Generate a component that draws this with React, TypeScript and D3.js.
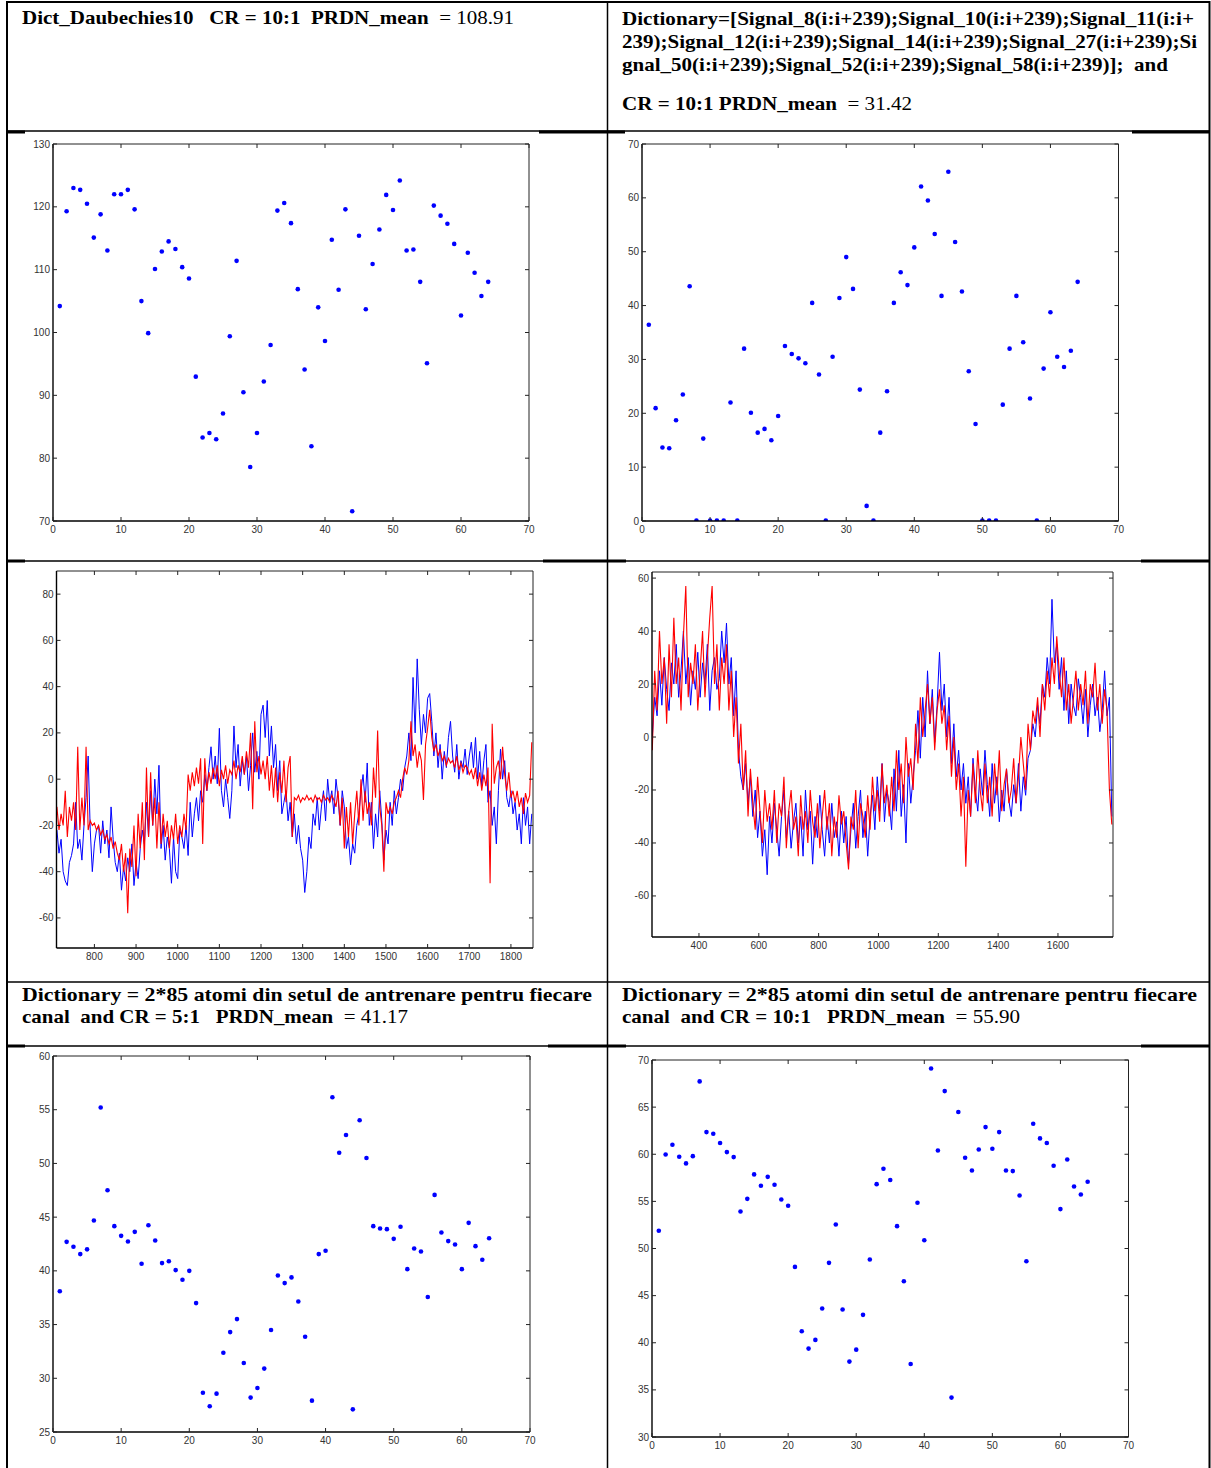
import React from 'react';
import * as d3 from 'd3';

const W = 1211, H = 1468;

// ---------- scatter data (PRDN per record, index 1..64) ----------
const prdDaub = [104.2,119.3,123.0,122.7,120.5,115.1,118.8,113.05,122.0,122.0,122.7,119.6,105.0,99.9,110.1,112.9,114.5,113.3,110.4,108.6,92.97,83.3,84.0,83.0,87.1,99.4,111.4,90.5,78.6,84.0,92.2,98.0,119.4,120.6,117.4,106.9,94.1,81.9,104.0,98.65,114.75,106.8,119.6,71.55,115.4,103.7,110.9,116.4,121.9,119.5,124.2,113.05,113.2,108.06,95.1,120.2,118.6,117.3,114.1,102.7,112.7,109.5,105.8,108.06];
const prdSignals = [36.45,20.95,13.64,13.5,18.7,23.5,43.6,0.1,15.3,0.1,0.1,0.1,22.0,0.1,32.0,20.1,16.4,17.1,15.0,19.5,32.5,31.0,30.2,29.3,40.5,27.2,0.1,30.5,41.4,49.0,43.1,24.4,2.8,0.1,16.4,24.1,40.5,46.2,43.8,50.8,62.1,59.5,53.3,41.8,64.85,51.8,42.6,27.8,18.0,0.1,0.1,0.1,21.6,32.0,41.8,33.2,22.75,0.1,28.3,38.75,30.5,28.6,31.6,44.4];
const prd85cr5 = [38.1,42.7,42.24,41.56,42.0,44.69,55.2,47.5,44.16,43.26,42.73,43.63,40.66,44.25,42.83,40.72,40.9,40.07,39.17,40.0,37.0,28.66,27.39,28.57,32.38,34.3,35.51,31.42,28.2,29.1,30.9,34.49,39.57,38.86,39.39,37.15,33.87,27.92,41.56,41.87,56.16,51.0,52.65,27.11,54.02,50.51,44.16,43.94,43.88,42.98,44.1,40.16,42.08,41.8,37.56,47.07,43.57,42.77,42.45,40.16,44.47,42.3,41.03,43.04];
const prd85cr10 = [51.88,59.98,61.0,59.73,59.03,59.8,67.73,62.35,62.18,61.19,60.23,59.7,53.93,55.27,57.86,56.65,57.6,56.76,55.2,54.53,48.05,41.22,39.38,40.3,43.63,48.48,52.55,43.52,38.0,39.27,42.96,48.83,56.83,58.46,57.26,52.37,46.53,37.75,54.85,50.88,69.1,60.4,66.7,34.18,64.48,59.63,58.28,60.51,62.88,60.58,62.35,58.28,58.21,55.63,48.65,63.24,61.68,61.19,58.78,54.18,59.45,56.58,55.73,57.08];

// ---------- signal 1 (samples every 5 from 710) ----------
const sig1Start = 710, sig1Step = 5;
const sig1Orig = [
-22,-32,-26,-40,-44,-46,-36,-33,-28,-10,
-30,-26,-35,-20,-8,10,-22,-40,-28,-22,
-20,-32,-18,-28,-22,-34,-12,-26,-36,-40,
-32,-48,-38,-44,-34,-40,-28,-46,-36,-43,
-30,-22,-28,-10,-25,-5,-20,0,-15,6,
-30,-20,-35,-25,-30,-45,-25,-40,-43,-22,
-25,-30,-20,-33,-10,-25,-15,-8,-18,-5,
-10,2,-5,5,14,0,10,-2,22,-5,
-12,0,-8,-17,-5,23,5,15,-3,8,
2,10,-5,6,20,3,12,0,28,32,
18,34,10,23,5,15,-5,8,-15,-10,
-5,-18,-10,-25,-15,-28,-20,-30,-35,-49,
-40,-25,-30,-15,-20,-8,-22,-12,-5,-18,
0,-10,-5,-15,0,-8,-20,-5,-12,-30,
-25,-37,-28,-32,-20,-15,-5,2,-10,7,
-20,-10,-30,-15,-25,-5,-18,-35,-22,-28,
-10,-20,-5,-15,-8,0,-5,5,10,20,
8,44,20,52,30,15,28,20,35,37,
25,10,20,5,15,0,12,5,18,25,
10,3,15,0,8,5,13,2,10,16,
5,18,0,12,-3,8,15,-10,-5,-20,
-12,-28,-5,13,0,8,-8,-12,-5,-15,
-10,-22,-15,-28,-8,-20,-12,-28,-15];
const sig1Rec = [
-12,-22,-15,-20,-5,-25,-12,-18,-10,-22,
14,-22,-8,-20,14,-22,-18,-20,-19,-22,
-20,-24,-22,-26,-24,-28,-25,-30,-27,-32,
-35,-28,-40,-32,-58,-30,-38,-20,-42,-15,
-30,-10,-35,5,-25,3,-20,-8,-30,-10,
-28,-15,-25,-18,-30,-20,-26,-15,-28,-20,
-25,-15,-22,2,-5,3,-3,5,-2,9,
-28,9,-5,3,-2,5,0,6,-3,4,
0,6,-2,4,2,8,0,6,3,10,
2,12,5,20,-13,25,3,10,2,8,
0,10,-5,6,-8,5,-10,3,-6,8,
-10,5,10,-25,-8,-9,-7,-10,-8,-9,
-7,-9,-8,-10,-7,-9,-8,-10,-7,-9,
-8,-10,-7,-9,-12,-5,-20,-8,-30,-12,
-25,-10,-28,-15,-5,-20,0,-18,-5,-15,
-10,-20,5,-8,21,-12,-20,-40,-10,-15,
-12,-15,-10,-8,-5,-8,0,5,2,8,
25,10,15,5,12,8,-9,15,22,30,
18,12,15,10,13,8,10,6,9,7,
8,5,10,4,7,3,6,5,2,4,
0,5,-3,3,-5,2,-3,5,-45,24,
-2,5,8,0,14,2,-5,3,-8,-5,
-10,-5,-12,-8,-15,-6,-10,-7,16];

// ---------- signal 2 (samples every 8 from 244) ----------
const sig2Start = 244, sig2Step = 8;
const sig2Orig = [
0,15,8,25,12,30,18,10,28,20,
35,15,25,40,20,30,12,25,18,32,
15,28,20,35,10,25,30,18,22,40,
28,43,20,30,8,25,-5,-15,-20,-10,
-25,-15,-30,-20,-38,-28,-45,-35,-52,-30,
-40,-25,-35,-45,-30,-20,-38,-28,-42,-32,
-25,-40,-30,-45,-20,-35,-28,-48,-30,-38,
-22,-35,-45,-30,-40,-25,-38,-32,-45,-28,
-40,-30,-48,-35,-25,-42,-30,-20,-38,-28,
-45,-30,-22,-35,-15,-28,-10,-32,-20,-25,
-35,-12,-28,-5,-30,-18,-40,-10,-25,-15,
-5,10,-8,15,0,25,5,18,-2,12,
32,10,20,0,15,-10,5,-15,-5,-20,
-10,-25,-15,-30,-8,-20,-28,-12,-22,-5,
-18,-30,-10,-25,-15,-32,-20,-28,-12,-24,
-30,-18,-25,-10,-28,-15,-22,-8,-5,5,
0,12,5,20,15,30,20,52,28,35,
18,30,10,25,5,20,12,8,22,15,
5,18,0,12,20,8,15,2,10,25,
8,15,-30];
const sig2Rec = [
-5,25,10,40,20,30,5,35,15,45,
20,30,10,38,57,15,28,20,35,10,
25,40,15,30,45,57,20,35,10,30,
20,35,10,25,0,15,-10,5,-20,-5,
-30,-12,-25,-35,-15,-28,-40,-20,-32,-25,
-35,-20,-40,-25,-30,-15,-42,-28,-20,-35,
-30,-45,-22,-35,-28,-40,-20,-32,-38,-25,
-42,-30,-20,-35,-25,-45,-30,-38,-22,-33,
-28,-40,-50,-30,-35,-20,-42,-25,-30,-38,
-22,-35,-15,-28,-20,-32,-10,-25,-18,-30,
-15,-28,-5,-20,-10,-25,0,-15,-8,-20,
5,-10,15,0,10,20,5,15,-5,10,
18,5,12,-5,8,-15,0,-20,-10,-30,
-15,-49,-20,-30,-10,-25,-5,-20,-28,-10,
-25,-15,-30,-10,-22,-5,-28,-18,-12,-25,
-20,-8,-25,-15,0,-10,-20,5,-5,10,
5,15,0,20,10,25,15,30,20,38,
25,15,30,10,20,5,15,25,10,20,
12,25,5,20,15,28,10,20,5,18,
10,-20,-33];

// ---------- tick values ----------
const idxTicks = [0,10,20,30,40,50,60,70];
const ticksDaub = [70,80,90,100,110,120,130];
const ticksSignals = [0,10,20,30,40,50,60,70];
const ticksCr5 = [25,30,35,40,45,50,55,60];
const ticksCr10 = [30,35,40,45,50,55,60,65,70];
const sig1XTicks = [800,900,1000,1100,1200,1300,1400,1500,1600,1700,1800];
const sig1YTicks = [-60,-40,-20,0,20,40,60,80];
const sig2XTicks = [400,600,800,1000,1200,1400,1600];
const sig2YTicks = [-60,-40,-20,0,20,40,60];

const LBL = { fontFamily: 'Liberation Sans, Arial, sans-serif', fontSize: 10, fill: '#333' };

type Box = { x0: number; x1: number; y0: number; y1: number };

function Axes({ box, xDom, yDom, xTicks, yTicks, id, children }:
  { box: Box; xDom: number[]; yDom: number[]; xTicks: number[]; yTicks: number[]; id: string; children: (xs: any, ys: any) => React.ReactNode }) {
  const xs = d3.scaleLinear().domain(xDom).range([box.x0, box.x1]);
  const ys = d3.scaleLinear().domain(yDom).range([box.y1, box.y0]);
  const tl = 4;
  return (
    <g>
      <defs>
        <clipPath id={id}>
          <rect x={box.x0} y={box.y0} width={box.x1 - box.x0} height={box.y1 - box.y0} />
        </clipPath>
      </defs>
      <g clipPath={`url(#${id})`}>{children(xs, ys)}</g>
      {/* frame */}
      <line x1={box.x0} x2={box.x1} y1={box.y0} y2={box.y0} stroke="#222" strokeWidth={1} />
      <line x1={box.x1} x2={box.x1} y1={box.y0} y2={box.y1} stroke="#222" strokeWidth={1} />
      <line x1={box.x0} x2={box.x1} y1={box.y1} y2={box.y1} stroke="#000" strokeWidth={1.4} />
      <line x1={box.x0} x2={box.x0} y1={box.y0} y2={box.y1} stroke="#000" strokeWidth={1.4} />
      {xTicks.map(t => (
        <g key={'x' + t}>
          <line x1={xs(t)} x2={xs(t)} y1={box.y1} y2={box.y1 - tl} stroke="#222" />
          <line x1={xs(t)} x2={xs(t)} y1={box.y0} y2={box.y0 + tl} stroke="#222" />
          <text x={xs(t)} y={box.y1 + 12} textAnchor="middle" {...LBL}>{t}</text>
        </g>
      ))}
      {yTicks.map(t => (
        <g key={'y' + t}>
          <line x1={box.x0} x2={box.x0 + tl} y1={ys(t)} y2={ys(t)} stroke="#222" />
          <line x1={box.x1} x2={box.x1 - tl} y1={ys(t)} y2={ys(t)} stroke="#222" />
          <text x={box.x0 - 3} y={ys(t) + 3.5} textAnchor="end" {...LBL}>{t}</text>
        </g>
      ))}
    </g>
  );
}

function Scatter({ box, yDom, yTicks, data, id }: { box: Box; yDom: number[]; yTicks: number[]; data: number[]; id: string }) {
  return (
    <Axes box={box} xDom={[0, 70]} yDom={yDom} xTicks={idxTicks} yTicks={yTicks} id={id}>
      {(xs, ys) => data.map((v, i) => (
        <circle key={i} cx={xs(i + 1)} cy={ys(v)} r={2.3} fill="#0000ff" />
      ))}
    </Axes>
  );
}

function Signals({ box, xDom, yDom, xTicks, yTicks, start, step, orig, rec, id }:
  { box: Box; xDom: number[]; yDom: number[]; xTicks: number[]; yTicks: number[]; start: number; step: number; orig: number[]; rec: number[]; id: string }) {
  return (
    <Axes box={box} xDom={xDom} yDom={yDom} xTicks={xTicks} yTicks={yTicks} id={id}>
      {(xs, ys) => {
        const line = d3.line<number>().x((_, i) => xs(start + i * step)).y(v => ys(v));
        return (
          <g>
            <path d={line(orig) || ''} fill="none" stroke="#0000ff" strokeWidth={1} />
            <path d={line(rec) || ''} fill="none" stroke="#ff0000" strokeWidth={1.1} />
          </g>
        );
      }}
    </Axes>
  );
}

const SERIF = 'Liberation Serif, Times New Roman, serif';

function HText({ x, y, len, bold, normal, size = 19 }: { x: number; y: number; len: number; bold: string; normal?: string; size?: number }) {
  return (
    <text x={x} y={y} textLength={len} lengthAdjust="spacingAndGlyphs"
      style={{ whiteSpace: 'pre' }} fontFamily={SERIF} fontSize={size} fill="#000">
      <tspan fontWeight="bold">{bold}</tspan>
      {normal ? <tspan fontWeight="normal">{normal}</tspan> : null}
    </text>
  );
}

export default function App() {
  const hLines = [131, 561, 982, 1046];
  const thickSegs = [
    [8, 25, 132], [539, 607, 132], [608, 625, 132], [1132, 1209, 132],
    [8, 25, 561], [543, 607, 561], [608, 626, 561], [1141, 1209, 561],
    [8, 25, 1046], [548, 607, 1046], [608, 626, 1046], [1141, 1209, 1046],
  ];
  return (
    <svg width={W} height={H} style={{ position: 'absolute', left: 0, top: 0, background: '#fff' }}>
      <rect x={0} y={0} width={W} height={H} fill="#fff" />
      {/* table grid */}
      <line x1={6} x2={1210} y1={2} y2={2} stroke="#000" strokeWidth={2} />
      {hLines.map(y => <line key={y} x1={6} x2={1210} y1={y} y2={y} stroke="#000" strokeWidth={1.5} />)}
      {thickSegs.map((s, i) => <line key={'t' + i} x1={s[0]} x2={s[1]} y1={s[2]} y2={s[2]} stroke="#000" strokeWidth={3} />)}
      <line x1={7} x2={7} y1={1} y2={H} stroke="#000" strokeWidth={2} />
      <line x1={607.5} x2={607.5} y1={1} y2={H} stroke="#000" strokeWidth={1.5} />
      <line x1={1209.5} x2={1209.5} y1={1} y2={H} stroke="#000" strokeWidth={2} />

      {/* headers */}
      <HText x={22} y={24} len={492} bold={'Dict_Daubechies10   CR = 10:1  PRDN_mean  '} normal={'= 108.91'} />
      <HText x={622} y={25} len={572} bold={'Dictionary=[Signal_8(i:i+239);Signal_10(i:i+239);Signal_11(i:i+'} />
      <HText x={622} y={48} len={575} bold={'239);Signal_12(i:i+239);Signal_14(i:i+239);Signal_27(i:i+239);Si'} />
      <HText x={622} y={71} len={546} bold={'gnal_50(i:i+239);Signal_52(i:i+239);Signal_58(i:i+239)];  and'} />
      <HText x={622} y={110} len={290} bold={'CR = 10:1 PRDN_mean  '} normal={'= 31.42'} />
      <HText x={22} y={1001} len={570} bold={'Dictionary = 2*85 atomi din setul de antrenare pentru fiecare'} />
      <HText x={22} y={1023} len={386} bold={'canal  and CR = 5:1   PRDN_mean  '} normal={'= 41.17'} />
      <HText x={622} y={1001} len={575} bold={'Dictionary = 2*85 atomi din setul de antrenare pentru fiecare'} />
      <HText x={622} y={1023} len={398} bold={'canal  and CR = 10:1   PRDN_mean  '} normal={'= 55.90'} />

      {/* row 2: scatter plots */}
      <Scatter id="c1" box={{ x0: 53, x1: 529, y0: 144, y1: 521 }} yDom={[70, 130]} yTicks={ticksDaub} data={prdDaub} />
      <Scatter id="c2" box={{ x0: 642, x1: 1118.5, y0: 144, y1: 521 }} yDom={[0, 70]} yTicks={ticksSignals} data={prdSignals} />

      {/* row 3: signals */}
      <Signals id="c3" box={{ x0: 56.5, x1: 533, y0: 571, y1: 948 }} xDom={[709, 1853]} yDom={[-73, 90]}
        xTicks={sig1XTicks} yTicks={sig1YTicks} start={sig1Start} step={sig1Step} orig={sig1Orig} rec={sig1Rec} />
      <Signals id="c4" box={{ x0: 652, x1: 1113, y0: 572, y1: 937 }} xDom={[243, 1784]} yDom={[-75.5, 62.3]}
        xTicks={sig2XTicks} yTicks={sig2YTicks} start={sig2Start} step={sig2Step} orig={sig2Orig} rec={sig2Rec} />

      {/* row 5: scatter plots */}
      <Scatter id="c5" box={{ x0: 53, x1: 530, y0: 1056, y1: 1432 }} yDom={[25, 60]} yTicks={ticksCr5} data={prd85cr5} />
      <Scatter id="c6" box={{ x0: 652, x1: 1128.5, y0: 1060, y1: 1437 }} yDom={[30, 70]} yTicks={ticksCr10} data={prd85cr10} />
    </svg>
  );
}
